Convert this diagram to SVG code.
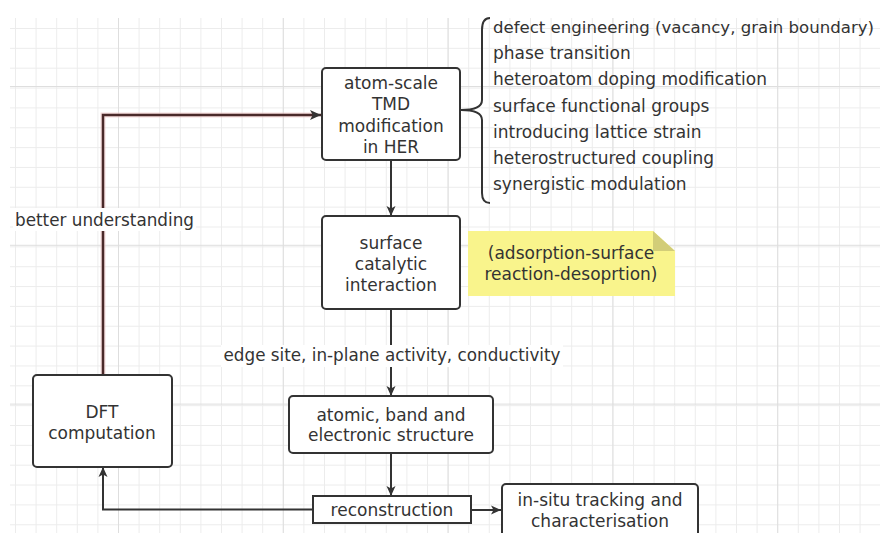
<svg xmlns="http://www.w3.org/2000/svg" width="880" height="533" viewBox="0 0 880 533">
<defs>
<pattern id="minor" patternUnits="userSpaceOnUse" x="15" y="8.15" width="20.6" height="19.85">
<path d="M0.5,0 V19.85 M0,0.5 H20.6" fill="none" stroke="#ececec" stroke-width="1"/>
</pattern>
<pattern id="major" patternUnits="userSpaceOnUse" x="118" y="86" width="164.8" height="158.8">
<path d="M0.5,0 V158.8 M0,0.5 H164.8" fill="none" stroke="#dedede" stroke-width="1"/>
</pattern>
<marker id="arr" viewBox="0 0 10 10" refX="10" refY="5" markerWidth="10" markerHeight="10" markerUnits="userSpaceOnUse" orient="auto">
<path d="M0,0.5 L10,5 L0,9.5 L2.5,5 Z" fill="#333"/>
</marker>
<marker id="arrR" viewBox="0 0 10 10" refX="10" refY="5" markerWidth="11" markerHeight="11" markerUnits="userSpaceOnUse" orient="auto">
<path d="M0,0.5 L10,5 L0,9.5 L2.5,5 Z" fill="#333"/>
</marker>
</defs>
<style>
text{font-family:"DejaVu Sans","Open Sans",sans-serif;font-size:17px;fill:#333}
.c{text-anchor:middle}
.box{fill:#fff;stroke:#333;stroke-width:2}
.ln{fill:none;stroke:#333;stroke-width:2}
</style>
<rect x="0" y="0" width="880" height="533" fill="#fff"/>
<rect x="10" y="18" width="870" height="515" fill="url(#minor)"/>
<rect x="10" y="18" width="870" height="515" fill="url(#major)"/>

<g id="connectors">
<path d="M103,375 V115 H312" fill="none" stroke="#f0c8c8" stroke-width="5" opacity="0.6"/>
<path d="M103,375 V115 H321" fill="none" stroke="#4a2a2a" stroke-width="2.5" marker-end="url(#arrR)"/>
<path d="M391,160 V216" class="ln" marker-end="url(#arr)"/>
<path d="M391,309 V396" class="ln" marker-end="url(#arr)"/>
<path d="M391,453 V496" class="ln" marker-end="url(#arr)"/>
<path d="M471,510 H501" class="ln" marker-end="url(#arr)"/>
<path d="M313,509.5 H103 V467" class="ln" marker-end="url(#arr)"/>
<path d="M490,18 Q482,18 482,30 V100 Q482,110 461,110 Q482,110 482,120 V193 Q482,203 490,203" fill="none" stroke="#333" stroke-width="2"/>
<g id="label-edge">
<rect x="221" y="345" width="342" height="22" fill="#fff"/>
<text x="392" y="361" class="c" textLength="337" lengthAdjust="spacingAndGlyphs">edge site, in-plane activity, conductivity</text>
</g>
<g id="label-better">
<rect x="13" y="208" width="183" height="23" fill="#fff"/>
<text x="15" y="226" textLength="179" lengthAdjust="spacingAndGlyphs">better understanding</text>
</g>
</g>

<g id="node-tmd">
<rect x="322" y="68" width="138" height="92" rx="4" class="box"/>
<text x="391" y="89" class="c">atom-scale</text>
<text x="391" y="110" class="c">TMD</text>
<text x="391" y="132" class="c">modification</text>
<text x="391" y="153" class="c">in HER</text>
</g>

<g id="node-list">
<text x="493" y="33" style="font-size:15.5px" textLength="381" lengthAdjust="spacingAndGlyphs">defect engineering (vacancy, grain boundary)</text>
<text x="493" y="59">phase transition</text>
<text x="493" y="85">heteroatom doping modification</text>
<text x="493" y="112">surface functional groups</text>
<text x="493" y="138">introducing lattice strain</text>
<text x="493" y="164">heterostructured coupling</text>
<text x="493" y="190">synergistic modulation</text>
</g>

<g id="node-surface">
<rect x="322" y="216" width="138" height="93" rx="4" class="box"/>
<text x="391" y="249" class="c">surface</text>
<text x="391" y="270" class="c">catalytic</text>
<text x="391" y="291" class="c">interaction</text>
</g>

<g id="node-note">
<path d="M468,231 H653 L675,251 V296 H468 Z" fill="#f9f48c"/>
<path d="M653,231 L675,251 H653 Z" fill="#d2cd78"/>
<text x="571" y="259" class="c">(adsorption-surface</text>
<text x="571" y="280" class="c">reaction-desoprtion)</text>
</g>

<g id="node-atomic">
<rect x="289" y="396" width="204" height="57" rx="4" class="box"/>
<text x="391" y="421" class="c">atomic, band and</text>
<text x="391" y="441" class="c">electronic structure</text>
</g>

<g id="node-recon">
<rect x="313" y="496" width="158" height="27" class="box"/>
<text x="392" y="516" class="c">reconstruction</text>
</g>

<g id="node-insitu">
<rect x="502" y="484" width="196" height="60" rx="4" class="box"/>
<text x="600" y="506" class="c">in-situ tracking and</text>
<text x="600" y="527" class="c">characterisation</text>
</g>

<g id="node-dft">
<rect x="33" y="375" width="139" height="92" rx="4" class="box"/>
<text x="102" y="418" class="c">DFT</text>
<text x="102" y="439" class="c">computation</text>
</g>
</svg>
